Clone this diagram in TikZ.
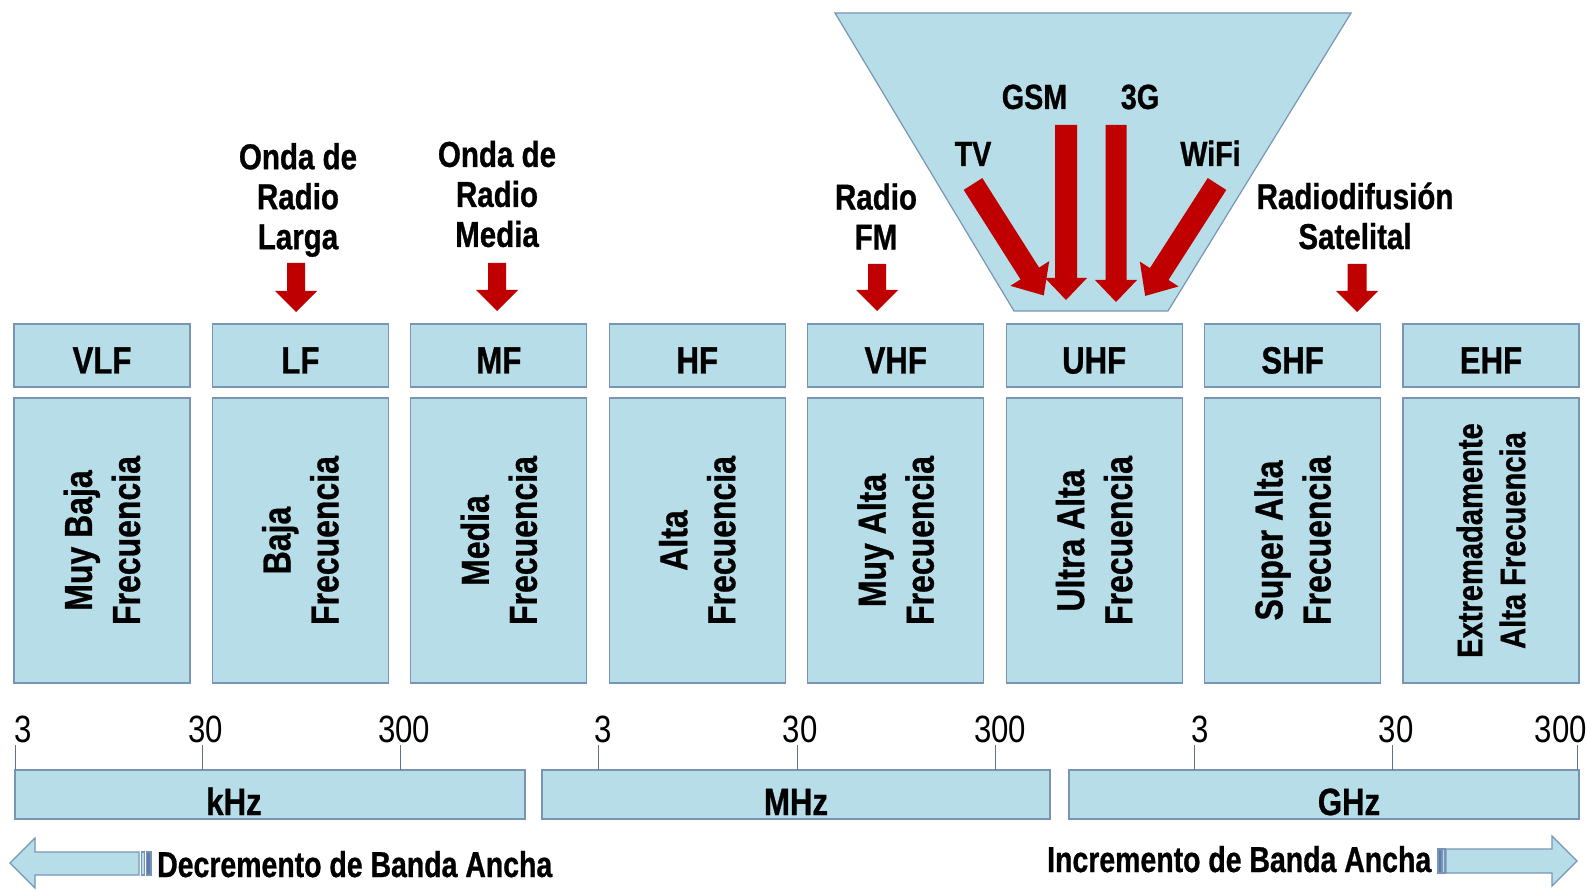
\documentclass[tikz,border=0pt]{standalone}
\usepackage{fontspec}
\setmainfont{Liberation Sans}[FakeStretch=0.82, BoldFeatures={FakeBold=0.8}]
\newfontfamily\narrowerfont{Liberation Sans}[FakeStretch=0.79, BoldFeatures={FakeBold=0.8}]
\usetikzlibrary{calc}
\definecolor{boxfill}{RGB}{183,221,232}
\definecolor{boxline}{RGB}{120,150,180}
\definecolor{tickline}{RGB}{100,115,130}
\definecolor{redarrow}{RGB}{192,0,0}
\definecolor{stripe}{RGB}{90,125,180}
\newcommand{\blkarrow}[6]{%
  \begin{scope}[shift={#1}, rotate=#2]
    \fill[redarrow] (0,{-#4/2}) -- ({#3-#6},{-#4/2}) -- ({#3-#6},{-#5/2}) -- (#3,0)
      -- ({#3-#6},{#5/2}) -- ({#3-#6},{#4/2}) -- (0,{#4/2}) -- cycle;
  \end{scope}}
\begin{document}
\begin{tikzpicture}[x=1pt,y=-1pt,
  band/.style={draw=boxline, fill=boxfill, line width=1.2pt, inner sep=0pt},
  hdr/.style={band, minimum width=176pt, minimum height=63pt},
  bodyb/.style={band, rotate=90, minimum width=285pt, minimum height=176pt, align=center,
     font=\fontsize{39}{48}\selectfont\bfseries},
  lbl/.style={font=\fontsize{38}{46}\selectfont\bfseries, inner sep=0pt, anchor=base},
  toplbl/.style={font=\fontsize{36}{40}\selectfont\bfseries, align=center, inner sep=0pt},
  applbl/.style={font=\fontsize{35}{40}\selectfont\bfseries, inner sep=0pt, anchor=base},
  num/.style={font=\fontsize{38}{46}\selectfont, inner sep=0pt, anchor=base},
  tick/.style={draw=tickline, line width=1pt},
  widebar/.style={band, minimum height=49pt},
  bottomtxt/.style={font=\fontsize{36}{40}\narrowerfont\bfseries, inner sep=0pt, anchor=base west}
]
\useasboundingbox (0,0) rectangle (1587,890);
\fill[white] (0,0) rectangle (1587,890);

% funnel
\draw[band] (835,13) -- (1351,13) -- (1168,311) -- (1014,311) -- cycle;

% band boxes
\foreach \i/\n/\t/\b in {0/vlf/VLF/{Muy Baja\\Frecuencia},
                         1/lf/LF/{Baja\\Frecuencia},
                         2/mf/MF/{Media\\Frecuencia},
                         3/hf/HF/{Alta\\Frecuencia},
                         4/vhf/VHF/{Muy Alta\\Frecuencia},
                         5/uhf/UHF/{Ultra Alta\\Frecuencia},
                         6/shf/SHF/{Super Alta\\Frecuencia}}{
  \node[hdr] (\n h) at ({102+198.43*\i},355.5) {};
  \node[lbl] (\n t) at ({102+198.43*\i},373.5) {\t};
  \node[bodyb] (\n b) at ({102+198.43*\i},540.5) {\b};
}
\node[hdr] (ehfh) at ({102+198.43*7},355.5) {};
\node[lbl] (ehft) at ({102+198.43*7},373.5) {EHF};
\node[bodyb, font=\fontsize{35.5}{43}\selectfont\bfseries] (ehfb) at ({102+198.43*7},540.5) {Extremadamente\\Alta Frecuencia};

% unit bars
\node[widebar, minimum width=510pt] (khz) at (270,794.5) {};
\node[widebar, minimum width=508pt] (mhz) at (796,794.5) {};
\node[widebar, minimum width=510pt] (ghz) at (1324,794.5) {};
\node[lbl] (khzt) at (234,815) {kHz};
\node[lbl] (mhzt) at (796,815) {MHz};
\node[lbl] (ghzt) at (1349,815) {GHz};

% ticks
\foreach \x in {15,202,400,598.5,797,995,1194,1392.5,1577}{
  \draw[tick] (\x,745) -- (\x,770);
}
\node[num, anchor=base west] (n1) at (14,742) {3};
\node[num] (n2) at (206,742) {30};
\node[num] (n3) at (404,742) {300};
\node[num] (n4) at (603,742) {3};
\node[num] (n5) at (800,742) {30};
\node[num] (n6) at (1000,742) {300};
\node[num] (n7) at (1200,742) {3};
\node[num] (n8) at (1396,742) {30};
\node[num, anchor=base east] (n9) at (1587,742) {300};

% top labels
\node[toplbl] (larga) at (298,200) {Onda de\\Radio\\Larga};
\node[toplbl] (media) at (497,194) {Onda de\\Radio\\Media};
\node[toplbl] (fm) at (876,216.5) {Radio\\FM};
\node[toplbl] (sat) at (1355,216) {Radiodifusión\\Satelital};
\node[applbl] (tv) at (973,166) {TV};
\node[applbl] (gsm) at (1034.5,109) {GSM};
\node[applbl] (g3) at (1140,109) {3G};
\node[applbl] (wifi) at (1210.5,166) {WiFi};

% red arrows
\blkarrow{(296,263)}{-90}{49}{18}{42}{21}
\blkarrow{(497,263)}{-90}{48}{18}{42}{21}
\blkarrow{(877,264)}{-90}{47}{18}{42}{21}
\blkarrow{(1357,264)}{-90}{48}{19}{42}{21}
\blkarrow{(1066,125)}{-90}{175}{22}{42}{22}
\blkarrow{(1116,125)}{-90}{177}{21}{42}{22}
\blkarrow{(973,184)}{-57.6}{132}{22}{46}{26}
\blkarrow{(1217,184)}{-122.7}{133}{22}{46}{26}

% bottom arrows
\draw[band] (10,863) -- (35,838) -- (35,852) -- (139,852) -- (139,875) -- (35,875) -- (35,888) -- cycle;
\draw[band] (141.5,852) rectangle (144.5,875);
\draw[band, fill=stripe] (146.5,852) rectangle (151,875);
\node[bottomtxt] (dec) at (157,877) {Decremento de Banda Ancha};

\draw[band] (1446,849) -- (1552,849) -- (1552,836) -- (1577,861) -- (1552,886) -- (1552,873) -- (1446,873) -- cycle;
\draw[band, fill=stripe] (1438,849) rectangle (1441.5,873);
\draw[band] (1442.5,849) rectangle (1445,873);
\node[bottomtxt] (inc) at (1047,872) {Incremento de Banda Ancha};
\end{tikzpicture}
\end{document}
